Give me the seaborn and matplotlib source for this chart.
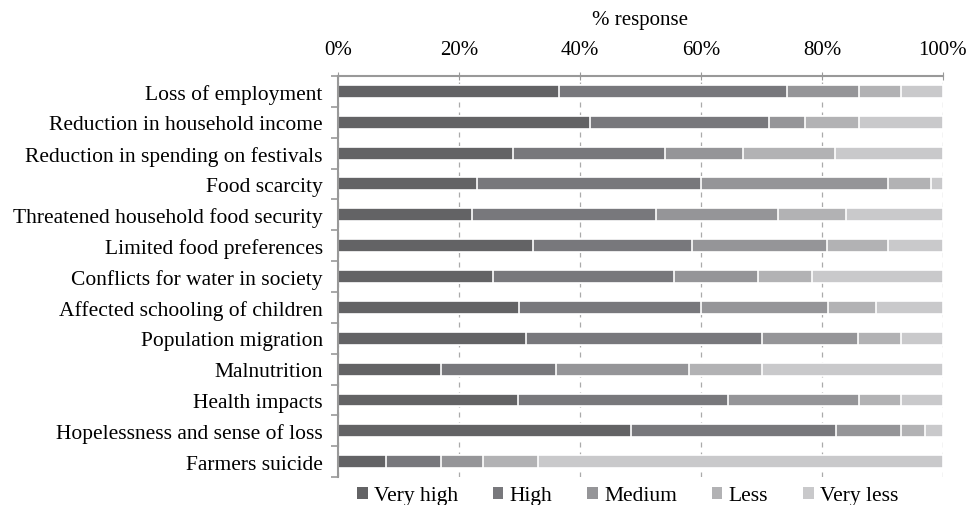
import numpy as np
import pandas as pd
import matplotlib
matplotlib.use("Agg")
import matplotlib.pyplot as plt
from matplotlib.ticker import PercentFormatter, FixedLocator
from matplotlib.patches import Patch
import seaborn as sns

categories = [
    "Loss of employment",
    "Reduction in household income",
    "Reduction in spending on festivals",
    "Food scarcity",
    "Threatened household food security",
    "Limited food preferences",
    "Conflicts for water in society",
    "Affected schooling of children",
    "Population migration",
    "Malnutrition",
    "Health impacts",
    "Hopelessness and sense of loss",
    "Farmers suicide",
]
very_high = [36.6, 41.6, 29.0, 23.0, 22.2, 32.3, 25.7, 29.9, 31.0, 17.0, 29.7, 48.5, 8.0]
high      = [37.7, 29.7, 25.0, 37.0, 30.4, 26.3, 29.8, 30.1, 39.1, 19.0, 34.7, 33.8, 9.0]
medium    = [11.9, 5.9, 13.0, 30.9, 20.1, 22.2, 13.9, 21.0, 15.9, 22.0, 21.8, 10.8, 6.9]
less      = [6.9, 9.0, 15.1, 7.1, 11.3, 10.1, 8.9, 8.0, 7.1, 12.1, 6.9, 4.0, 9.2]
very_less = [6.9, 13.8, 17.9, 2.0, 16.0, 9.1, 21.7, 11.0, 6.9, 29.9, 6.9, 2.9, 66.9]

series_names = ["Very high", "High", "Medium", "Less", "Very less"]
series_vals = [very_high, high, medium, less, very_less]
palette = ["#636365", "#78787c", "#959598", "#b2b2b4", "#c9c9cb"]

df = pd.DataFrame({"category": categories})
for name, vals in zip(series_names, series_vals):
    df[name] = vals
cum = df[series_names].cumsum(axis=1)

plt.rcParams["font.family"] = ["Liberation Serif", "DejaVu Serif"]

fig, ax = plt.subplots(figsize=(9.7, 5.06), dpi=100)
fig.subplots_adjust(left=0.3485, right=0.972, top=0.848, bottom=0.055)

# Stack by layering cumulative totals, longest first
for name, color in reversed(list(zip(series_names, palette))):
    sns.barplot(x=cum[name], y=df["category"], color=color, orient="h",
                width=0.42, edgecolor="white", linewidth=1.2, ax=ax,
                saturation=1)

ax.set_xlim(0, 100)
ax.set_ylim(len(categories) - 0.5, -0.5)
ax.xaxis.tick_top()
ax.xaxis.set_label_position("top")
ax.set_xticks([0, 20, 40, 60, 80, 100])
ax.xaxis.set_major_formatter(PercentFormatter(decimals=0))
ax.set_xlabel("% response", fontsize=15, labelpad=12)
ax.set_ylabel("")

ax.grid(axis="x", color="#aaaaaa", linestyle=(0, (4, 4)), linewidth=0.9)
ax.set_axisbelow(True)

for side in ["right", "bottom"]:
    ax.spines[side].set_visible(False)
for side in ["top", "left"]:
    ax.spines[side].set_color("#999999")
    ax.spines[side].set_linewidth(1.5)

ax.tick_params(axis="x", labelsize=15, length=6, direction="inout",
               color="#999999", pad=9)
ax.tick_params(axis="y", which="major", labelsize=15.5, length=0, pad=11)
ax.yaxis.set_minor_locator(FixedLocator(np.arange(-0.5, len(categories), 1.0)))
ax.tick_params(axis="y", which="minor", length=5, color="#999999", width=1.2)

handles = [Patch(facecolor=c, edgecolor="none") for c in palette]
leg = fig.legend(handles, series_names, loc="center",
                 bbox_to_anchor=(0.647, 0.018), ncol=5, frameon=False,
                 fontsize=15.5, handlelength=0.5, handleheight=0.5,
                 handletextpad=0.3, columnspacing=1.6)

fig.savefig("out.png", dpi=100)
